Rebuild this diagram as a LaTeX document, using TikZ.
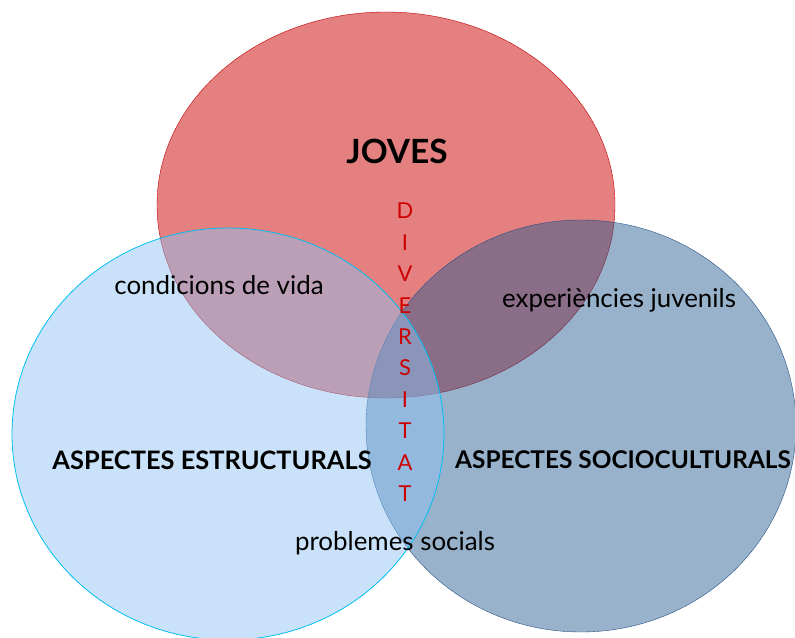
\documentclass[tikz,border=0pt]{standalone}
\usepackage{fontspec}
\setmainfont{Lato}
\usetikzlibrary{positioning}
\usepackage{xcolor}
\definecolor{jovesred}{RGB}{229,128,128}
\definecolor{jovesline}{RGB}{192,0,0}
\definecolor{estrblue}{RGB}{142,194,242}
\definecolor{estrline}{RGB}{0,190,240}
\definecolor{sociblue}{RGB}{31,88,144}
\definecolor{sociline}{RGB}{40,80,130}
\colorlet{diverred}{red!80!black}
\tikzset{
  label/.style={text=black,inner sep=0pt,font=\fontsize{26}{30}\selectfont},
  title/.style={label,font=\bfseries\fontsize{25.5}{30}\selectfont},
  letter/.style={text=diverred,inner sep=0pt,font=\fontsize{22}{25}\selectfont}
}

\begin{document}
\begin{tikzpicture}[x=1bp,y=-1bp]

    \useasboundingbox (0,0) rectangle (795,638);
    \clip (0,0) rectangle (795,638);

    % circles
    \draw[jovesline, fill=jovesred] (386,205) ellipse [x radius=229, y radius=193];
    \draw[sociline, fill=sociblue, fill opacity=0.46] (581,426) ellipse [x radius=215, y radius=206];
    \draw[estrline, thick, fill=estrblue, fill opacity=0.48] (228,434) ellipse [x radius=216, y radius=206];

    % titles
    \node[title, font=\bfseries\fontsize{33.5}{38}\selectfont] (joves) at (397,151) {JOVES};
    \node[title] (estr) at (212,460) {ASPECTES ESTRUCTURALS};
    \node[title, font=\bfseries\fontsize{24.5}{30}\selectfont] (soci) at (623,460) {ASPECTES SOCIOCULTURALS};

    % overlaps
    \node[label] (vida) at (219,285) {condicions de vida};
    \node[label] (juv) at (619,300) {experiències juvenils};
    \node[label] (prob) at (395,543) {problemes socials};

    % diversitat
    \foreach \l [count=\i] in {D,I,V,E,R,S,I,T,A,T}
        \node[letter] (div\i) at (405,{211+31.4*(\i-1)}) {\l};

\end{tikzpicture}
\end{document}
